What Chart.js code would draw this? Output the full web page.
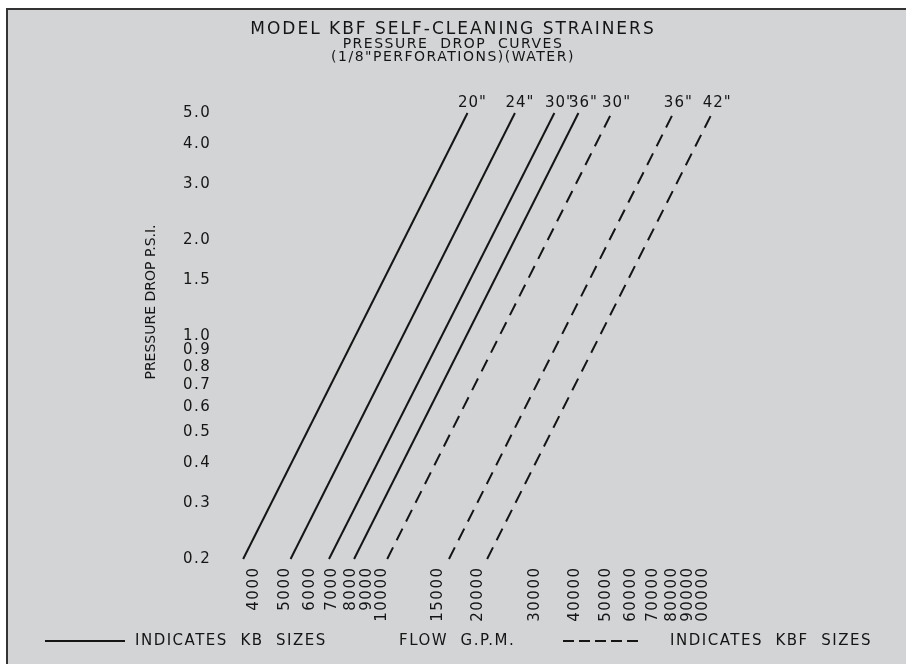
<!DOCTYPE html>
<html>
<head>
<meta charset="utf-8">
<script src="https://cdn.jsdelivr.net/npm/chart.js@4.4.1/dist/chart.umd.min.js"></script>
<style>
  html, body { margin:0; padding:0; background:#fff; }
  #frame { position:absolute; left:6px; top:8px; width:900px; height:656px; background:#d3d4d6;
           border-left:2px solid #333; border-top:2px solid #333; box-sizing:border-box; }
  #chart { position:absolute; left:0; top:0; }
</style>
</head>
<body>
<div id="frame"></div>
<canvas id="chart" width="906" height="664"></canvas>
<script>
// pressure drop curves, both axes log
const titleLines = ['MODEL KBF SELF-CLEANING STRAINERS', 'PRESSURE  DROP  CURVES', '(1/8"PERFORATIONS)(WATER)'];
const sizeLabels = ['20"', '24"', '30"', '36"', '30"', '36"', '42"'];
const isKbf = [false, false, false, false, true, true, true];
const psiEnds = [0.2, 5.0];
const gpmAtLow = [3700, 5200, 6850, 8200, 10400, 16200, 21300];   // flow at 0.2 psi
const gpmAtHigh = [18500, 26000, 34500, 41000, 52000, 81000, 107000]; // flow at 5.0 psi
const flowTicks = [4000, 5000, 6000, 7000, 8000, 9000, 10000, 15000, 20000, 30000,
  40000, 50000, 60000, 70000, 80000, 90000, 100000];
const psiTicks = [0.2, 0.3, 0.4, 0.5, 0.6, 0.7, 0.8, 0.9, 1.0, 1.5, 2.0, 3.0, 4.0, 5.0];

const ink = '#151515';
const font = 'DejaVu Sans';

const datasets = sizeLabels.map((lbl, i) => ({
  label: lbl,
  data: [{x: gpmAtLow[i], y: psiEnds[0]}, {x: gpmAtHigh[i], y: psiEnds[1]}],
  borderColor: ink,
  borderWidth: 2,
  borderDash: isKbf[i] ? [13, 8] : [],
  pointRadius: 0,
  fill: false
}));

function spacedText(ctx, txt, x, y, size, spacing) {
  ctx.save();
  ctx.font = size + 'px ' + font;
  ctx.letterSpacing = spacing + 'px';
  ctx.fillText(txt, x, y);
  ctx.restore();
}

const overlay = {
  id: 'overlay',
  beforeDraw(chart) {
    chart.ctx.letterSpacing = '1.5px';
  },
  afterDatasetsDraw(chart) {
    const ctx = chart.ctx;
    ctx.save();
    ctx.fillStyle = ink;
    ctx.textAlign = 'center';
    ctx.textBaseline = 'middle';
    chart.data.datasets.forEach((ds, i) => {
      const top = chart.getDatasetMeta(i).data[1];
      spacedText(ctx, ds.label, top.x + 5, top.y - 10, 15, 1);
    });
    ctx.restore();
  },
  afterDraw(chart) {
    const ctx = chart.ctx;
    ctx.save();
    ctx.fillStyle = ink;
    ctx.strokeStyle = ink;
    ctx.textBaseline = 'middle';
    ctx.textAlign = 'center';

    // title block
    spacedText(ctx, titleLines[0], 453, 30, 17, 2);
    spacedText(ctx, titleLines[1], 453, 44, 14, 1.5);
    spacedText(ctx, titleLines[2], 453, 57.5, 14, 1.5);

    // y axis title
    ctx.save();
    ctx.translate(151, 302);
    ctx.rotate(-Math.PI / 2);
    spacedText(ctx, 'PRESSURE DROP P.S.I.', 0, 0, 14, 0);
    ctx.restore();

    // bottom row: key + x title
    const y = 641;
    ctx.lineWidth = 2;
    ctx.beginPath();
    ctx.moveTo(45, y); ctx.lineTo(125, y);
    ctx.stroke();
    ctx.setLineDash([11, 5]);
    ctx.beginPath();
    ctx.moveTo(563, y); ctx.lineTo(640, y);
    ctx.stroke();
    ctx.setLineDash([]);
    ctx.textAlign = 'left';
    spacedText(ctx, 'INDICATES  KB  SIZES', 135, y, 15, 1.5);
    spacedText(ctx, 'FLOW  G.P.M.', 399, y, 15, 1.5);
    ctx.textAlign = 'right';
    spacedText(ctx, 'INDICATES  KBF  SIZES', 872, y, 15, 1.5);
    ctx.restore();
  }
};

new Chart(document.getElementById('chart'), {
  type: 'line',
  data: { datasets: datasets },
  options: {
    responsive: false,
    animation: false,
    layout: { padding: { left: 183, right: 183.8, top: 99.8, bottom: 41.5 } },
    plugins: {
      legend: { display: false },
      tooltip: { enabled: false }
    },
    scales: {
      x: {
        type: 'logarithmic',
        min: 3500, max: 115000,
        grid: { display: false, drawTicks: false },
        border: { display: false },
        afterBuildTicks: s => { s.ticks = flowTicks.map(v => ({ value: v })); },
        afterFit: s => { s.height = 60; },
        ticks: {
          autoSkip: false, minRotation: 90, maxRotation: 90, padding: 4,
          color: ink, font: { family: font, size: 15 },
          callback: v => String(v)
        }
      },
      y: {
        type: 'logarithmic',
        min: 0.195, max: 5.5,
        grid: { display: false, drawTicks: false },
        border: { display: false },
        afterBuildTicks: s => { s.ticks = psiTicks.map(v => ({ value: v })); },
        afterFit: s => { s.width = 52.4; },
        ticks: {
          autoSkip: false, crossAlign: 'far', padding: 0,
          color: ink, font: { family: font, size: 15 },
          callback: v => Number(v).toFixed(1)
        }
      }
    }
  },
  plugins: [overlay]
});
</script>
</body>
</html>
